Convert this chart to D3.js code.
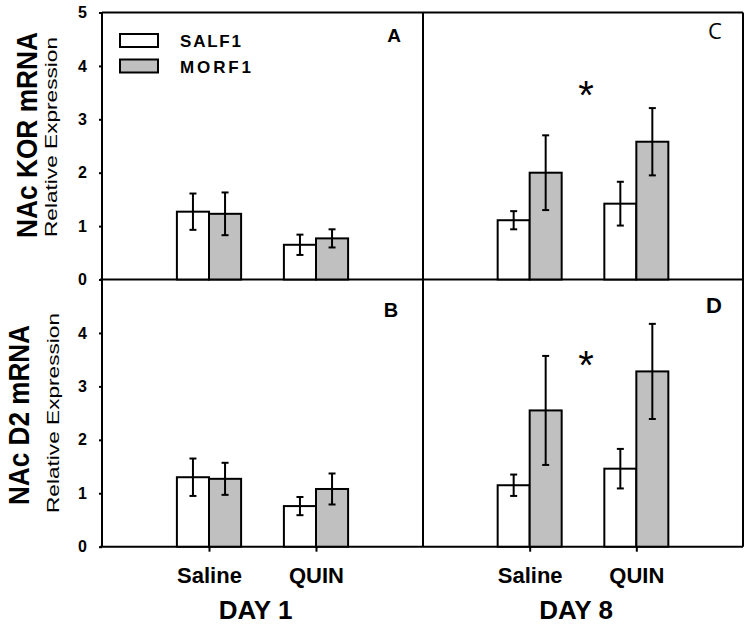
<!DOCTYPE html>
<html>
<head>
<meta charset="utf-8">
<script src="https://cdn.jsdelivr.net/npm/d3@7"></script>
<style>
  html, body { margin: 0; padding: 0; background: #fff; }
  svg { display: block; font-family: Arial, "Liberation Sans", sans-serif; }
</style>
</head>
<body>
<svg id="chart" width="750" height="625"></svg>
<script>
// ---------- data ----------
const groups = ["Saline", "QUIN"];
const seriesNames = ["SALF1", "MORF1"];
const seriesFill = ["#ffffff", "#c0c0c0"];
const yTicksTop = [0, 1, 2, 3, 4, 5];
const yTicksBottom = [0, 1, 2, 3, 4];
const days = ["DAY 1", "DAY 8"];
const rowTitles = ["NAc KOR mRNA", "NAc D2 mRNA"];
const rowSubtitle = "Relative Expression";

// panel A : KOR, day 1
const korDay1Sal = [1.27, 0.65];
const korDay1SalErr = [0.34, 0.19];
const korDay1Mor = [1.23, 0.77];
const korDay1MorErr = [0.40, 0.17];
// panel C : KOR, day 8
const korDay8Sal = [1.11, 1.42];
const korDay8SalErr = [0.17, 0.41];
const korDay8Mor = [2.00, 2.58];
const korDay8MorErr = [0.70, 0.63];
// panel B : D2, day 1
const d2Day1Sal = [1.30, 0.76];
const d2Day1SalErr = [0.35, 0.17];
const d2Day1Mor = [1.27, 1.08];
const d2Day1MorErr = [0.30, 0.29];
// panel D : D2, day 8
const d2Day8Sal = [1.15, 1.46];
const d2Day8SalErr = [0.20, 0.37];
const d2Day8Mor = [2.55, 3.28];
const d2Day8MorErr = [1.02, 0.89];

const asteriskC = 3.6;
const asteriskD = 3.55;

const panels = [
  {row: 0, col: 0, letter: "A", sal: korDay1Sal, salErr: korDay1SalErr, mor: korDay1Mor, morErr: korDay1MorErr, star: null},
  {row: 0, col: 1, letter: "C", sal: korDay8Sal, salErr: korDay8SalErr, mor: korDay8Mor, morErr: korDay8MorErr, star: asteriskC},
  {row: 1, col: 0, letter: "B", sal: d2Day1Sal, salErr: d2Day1SalErr, mor: d2Day1Mor, morErr: d2Day1MorErr, star: null},
  {row: 1, col: 1, letter: "D", sal: d2Day8Sal, salErr: d2Day8SalErr, mor: d2Day8Mor, morErr: d2Day8MorErr, star: asteriskD}
];

const FONT = "Arial, 'Liberation Sans', sans-serif";

// ---------- layout ----------
const svg = d3.select("#chart");
const colX = [[102, 423], [423, 743]];
const rowY = [[279.5, 12.5], [546.7, 279.5]];
const xScales = colX.map(r => d3.scaleLinear().domain([0, 3]).range(r));
const yScales = rowY.map(r => d3.scaleLinear().domain([0, 5]).range(r));
const barW = 0.3; // in x units

// borders
const frame = svg.append("g").attr("fill", "none").attr("stroke", "#000").attr("stroke-width", 2);
frame.append("line").attr("x1", 102).attr("x2", 743).attr("y1", 12.5).attr("y2", 12.5);
frame.append("line").attr("x1", 743).attr("x2", 743).attr("y1", 12.5).attr("y2", 546.7);
frame.append("line").attr("x1", 423).attr("x2", 423).attr("y1", 12.5).attr("y2", 546.7);
frame.append("line").attr("x1", 100).attr("x2", 743).attr("y1", 279.5).attr("y2", 279.5);
frame.append("line").attr("x1", 100).attr("x2", 743).attr("y1", 546.7).attr("y2", 546.7);

// y axes
[yTicksTop, yTicksBottom].forEach((ticks, r) => {
  const ax = svg.append("g")
    .attr("transform", "translate(102,0)")
    .call(d3.axisLeft(yScales[r]).tickValues(ticks).tickSize(3).tickPadding(12).tickFormat(d3.format("d")));
  ax.attr("font-family", FONT);
  ax.select(".domain").attr("stroke-width", 2).attr("d", `M0,${rowY[r][0]}V${rowY[r][1]}`);
  ax.selectAll(".tick line").attr("stroke-width", 2);
  ax.selectAll("text").attr("font-size", 16).attr("font-weight", "bold")
    .attr("font-family", FONT).attr("fill", "#000");
});

// x axes (bottom row)
[0, 1].forEach(c => {
  const ax = svg.append("g")
    .attr("transform", `translate(0,${rowY[1][0]})`)
    .call(d3.axisBottom(xScales[c]).tickValues([1, 2]).tickSize(5).tickPadding(16)
      .tickFormat((d, i) => groups[i]));
  ax.attr("font-family", FONT);
  ax.select(".domain").remove();
  ax.selectAll(".tick line").attr("stroke-width", 2);
  ax.selectAll("text").attr("font-size", 22).attr("font-weight", "bold")
    .attr("font-family", FONT).attr("fill", "#000");
  svg.append("text")
    .attr("x", xScales[c](1.5) - 7).attr("y", 619)
    .attr("text-anchor", "middle").attr("font-size", 26).attr("font-weight", "bold")
    .attr("font-family", FONT)
    .text(days[c]);
});

// bars
panels.forEach(p => {
  const x = xScales[p.col], y = yScales[p.row];
  const g = svg.append("g");
  const series = [
    {vals: p.sal, errs: p.salErr, off: -barW, fill: seriesFill[0]},
    {vals: p.mor, errs: p.morErr, off: 0, fill: seriesFill[1]}
  ];
  series.forEach(s => {
    s.vals.forEach((v, i) => {
      const x0 = x(i + 1 + s.off), x1 = x(i + 1 + s.off + barW);
      g.append("rect")
        .attr("x", x0).attr("y", y(v))
        .attr("width", x1 - x0).attr("height", y(0) - y(v))
        .attr("fill", s.fill).attr("stroke", "#000").attr("stroke-width", 2);
    });
  });
  series.forEach(s => {
    s.vals.forEach((v, i) => {
      const cx = x(i + 1 + s.off + barW / 2);
      const hi = y(v + s.errs[i]), lo = y(v - s.errs[i]);
      g.append("line").attr("x1", cx).attr("x2", cx).attr("y1", hi).attr("y2", lo)
        .attr("stroke", "#000").attr("stroke-width", 2);
      [hi, lo].forEach(yy => g.append("line")
        .attr("x1", cx - 3.5).attr("x2", cx + 3.5).attr("y1", yy).attr("y2", yy)
        .attr("stroke", "#000").attr("stroke-width", 2));
    });
  });
  if (p.star !== null) {
    g.append("text").attr("x", x(1.5) + 3).attr("y", y(p.star) + 22)
      .attr("text-anchor", "middle").attr("font-size", 40).attr("font-family", FONT).text("*");
  }
});

// panel letters
const letterStyle = {
  A: {x: 394, y: 42, size: 19, weight: "bold", family: FONT},
  B: {x: 391, y: 316.7, size: 20, weight: "bold", family: FONT},
  C: {x: 715, y: 39, size: 22, weight: "normal", family: "'Open Sans', Arial, sans-serif"},
  D: {x: 714, y: 313.3, size: 22, weight: "bold", family: FONT}
};
panels.forEach(p => {
  const s = letterStyle[p.letter];
  svg.append("text").attr("x", s.x).attr("y", s.y).attr("text-anchor", "middle")
    .attr("font-size", s.size).attr("font-weight", s.weight).attr("font-family", s.family)
    .text(p.letter);
});

// row titles
const titleGeom = [
  {cx: 37, cy: 135, len: 206, sub: {cx: 57, cy: 137, len: 200}},
  {cx: 28.5, cy: 415, len: 180, sub: {cx: 59, cy: 413, len: 200}}
];
rowTitles.forEach((t, r) => {
  const gm = titleGeom[r];
  svg.append("text")
    .attr("transform", `translate(${gm.cx},${gm.cy}) rotate(-90)`)
    .attr("text-anchor", "middle").attr("font-size", 30).attr("font-weight", "bold")
    .attr("font-family", FONT)
    .attr("textLength", gm.len).attr("lengthAdjust", "spacingAndGlyphs")
    .text(t);
  svg.append("text")
    .attr("transform", `translate(${gm.sub.cx},${gm.sub.cy}) rotate(-90)`)
    .attr("text-anchor", "middle").attr("font-size", 17)
    .attr("font-family", FONT)
    .attr("textLength", gm.sub.len).attr("lengthAdjust", "spacingAndGlyphs")
    .text(rowSubtitle);
});

// legend
const legend = svg.append("g");
seriesNames.forEach((n, i) => {
  const yy = [34, 59.5][i];
  legend.append("rect").attr("x", 120).attr("y", yy).attr("width", 38).attr("height", 13)
    .attr("fill", seriesFill[i]).attr("stroke", "#000").attr("stroke-width", 2);
  legend.append("text").attr("x", 180).attr("y", yy + 13.3)
    .attr("font-size", 17).attr("font-weight", "bold").attr("font-family", FONT)
    .attr("textLength", [61, 71][i]).attr("lengthAdjust", "spacing")
    .text(n);
});
</script>
</body>
</html>
